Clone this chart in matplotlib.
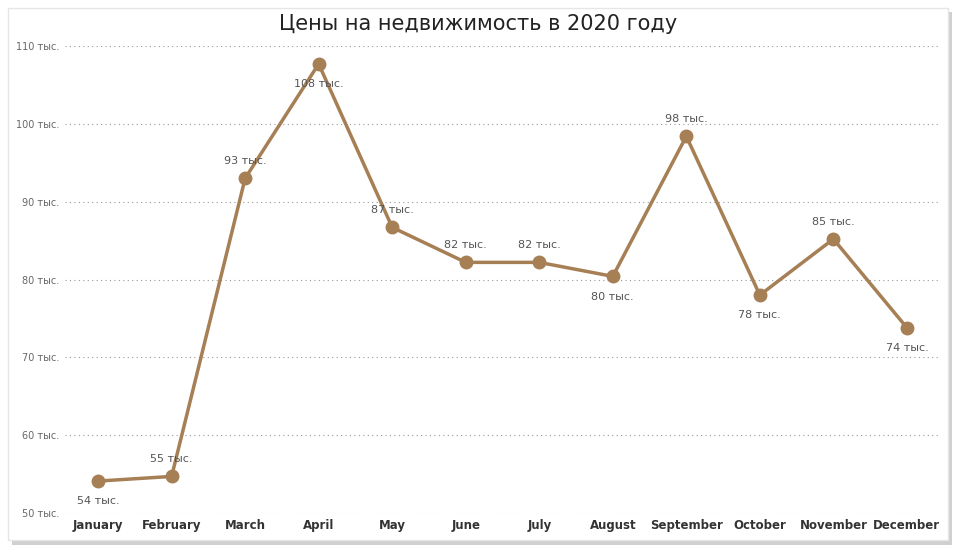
import matplotlib
matplotlib.use("Agg")
import matplotlib.pyplot as plt
from matplotlib.patches import Rectangle

months = ["January","February","March","April","May","June","July","August","September","October","November","December"]
values = [54.1, 54.7, 93.0, 107.7, 86.7, 82.2, 82.2, 80.4, 98.4, 78.0, 85.2, 73.8]
labels = ["54 тыс.","55 тыс.","93 тыс.","108 тыс.","87 тыс.","82 тыс.","82 тыс.","80 тыс.","98 тыс.","78 тыс.","85 тыс.","74 тыс."]
above = [False, True, True, False, True, True, True, False, True, False, True, False]
yticks = [50, 60, 70, 80, 90, 100, 110]

W, H = 962, 559
fig = plt.figure(figsize=(W/100, H/100), dpi=100)
fig.patches.append(Rectangle((12/W, 1-545/H), 940/W, 533/H, transform=fig.transFigure,
                             facecolor="#d0d0d0", edgecolor="none", zorder=-10))
fig.patches.append(Rectangle((8/W, 1-540/H), 940/W, 532/H, transform=fig.transFigure,
                             facecolor="white", edgecolor="#e6e6e6", zorder=-9))

ax = fig.add_axes([65/W, 1-513/H, (940-65)/W, (513-46)/H])
ax.set_zorder(5)
ax.set_facecolor("none")
x = list(range(len(months)))
col = "#A67F55"
ax.plot(x, values, color=col, lw=2.5, marker="o", ms=9, zorder=3)
for xi, v, l, a in zip(x, values, labels, above):
    ax.annotate(l, (xi, v), xytext=(0, 9 if a else -11), textcoords="offset points",
                ha="center", va="bottom" if a else "top", fontsize=8, color="#555555")
ax.set_xlim(-0.45, 11.45)
ax.set_ylim(50, 110)
ax.set_yticks(yticks)
ax.set_yticklabels([f"{t} тыс." for t in yticks], fontsize=7, color="#666666")
ax.set_xticks(x)
ax.set_xticklabels(months, fontsize=8.5, fontweight="bold", color="#333333")
ax.tick_params(length=0, pad=4)
ax.grid(axis="y", linestyle=(0, (1, 3)), color="#999999", lw=0.8)
for s in ax.spines.values():
    s.set_visible(False)
fig.text(478/W, 1-24/H, "Цены на недвижимость в 2020 году", ha="center", va="center",
         fontsize=15, color="#222222", zorder=6)
fig.savefig("out.png", dpi=100)
